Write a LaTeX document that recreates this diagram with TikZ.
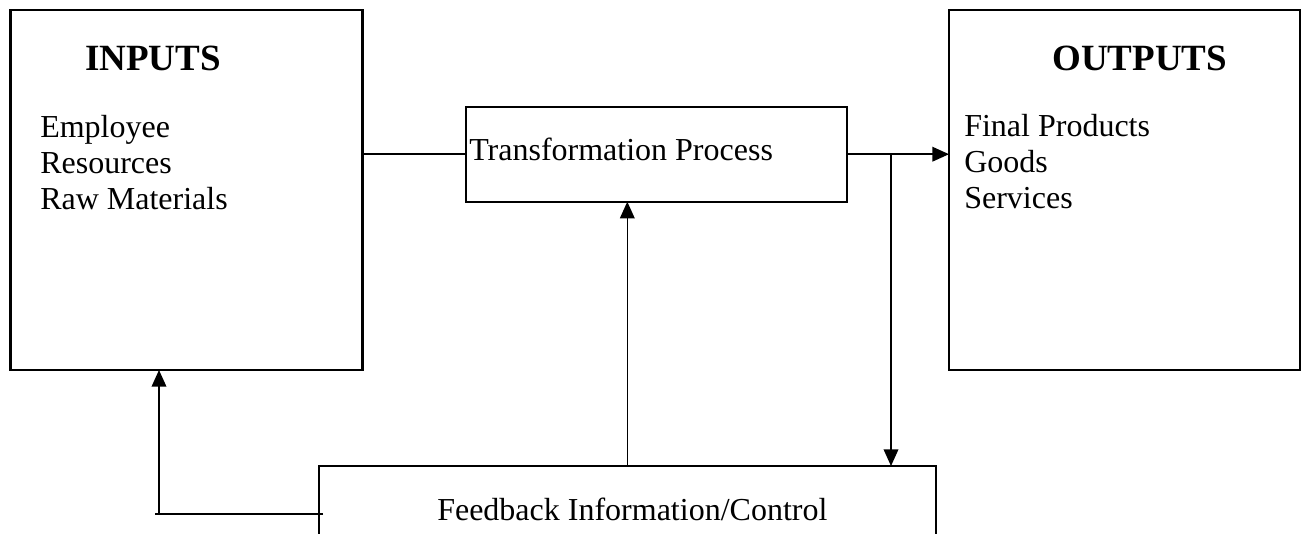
\documentclass[tikz,border=0pt]{standalone}
\usepackage{fontspec}
\setmainfont{Liberation Serif}
\usetikzlibrary{arrows.meta}
\tikzset{
  box/.style={draw, line width=1.8pt, rectangle, inner sep=0pt, outer sep=0pt},
  conn/.style={line width=1.1pt},
  arr/.style={conn, -{Triangle[length=12.5pt,width=11pt]}},
  head/.style={font=\fontsize{27.75}{30}\selectfont\bfseries, inner sep=0pt, anchor=base west},
  item/.style={font=\fontsize{24}{27}\selectfont, inner sep=0pt, anchor=base west}
}
\begin{document}
\begin{tikzpicture}[x=0.75pt,y=-0.75pt]
\useasboundingbox (0,0) rectangle (1301,533);
\clip (0,0) rectangle (1301,533);
% boxes
\node[box, minimum width=264pt, minimum height=270pt] (inputs) at (186.5,190) {};
\node[box, minimum width=263.25pt, minimum height=270pt] (outputs) at (1124.5,190) {};
\node[box, minimum width=285.75pt, minimum height=71.25pt] (trans) at (656.5,154.2) {};
\node[box, minimum width=462.75pt, minimum height=100.5pt] (fb) at (627.5,533) {};
% texts
\node[head] (inh) at (85,70) {INPUTS};
\node[item] (in1) at (40,137) {Employee};
\node[item] (in2) at (40,173) {Resources};
\node[item] (in3) at (40,209) {Raw Materials};
\node[head] (outh) at (1052,70) {OUTPUTS};
\node[item] (out1) at (964,136) {Final Products};
\node[item] (out2) at (964,172) {Goods};
\node[item] (out3) at (964,208) {Services};
\node[item] (transt) at (469,160) {Transformation Process};
\node[item] (fbt) at (437,520) {Feedback Information/Control};
% connector coordinates
\coordinate (branch) at (891,154.2);
\coordinate (upx) at (627.3,0);
\coordinate (fbl) at (323,514);
\coordinate (fbll) at (155,514);
\coordinate (fbup) at (159,514);
% connectors
\draw[conn] (inputs.east |- trans.west) -- (trans.west);
\draw[arr] (trans.east) -- (outputs.west |- trans.east);
\draw[arr] (branch) -- (branch |- fb.north);
\draw[arr] (upx |- fb.north) -- (upx |- trans.south);
\draw[conn] (fbl) -- (fbll);
\draw[arr] (fbup) -- (fbup |- inputs.south);
\end{tikzpicture}
\end{document}
